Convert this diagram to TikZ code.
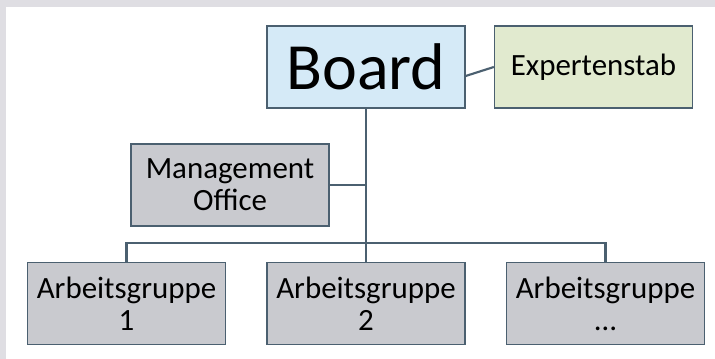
\documentclass[tikz,border=0pt]{standalone}
\usepackage{fontspec}
\setmainfont{Carlito}
\usetikzlibrary{arrows}
\usetikzlibrary{calc}

\definecolor{rahmen}{HTML}{DFDEE3}
\definecolor{linie}{HTML}{4B6070}
\definecolor{boardfill}{HTML}{D5EAF7}
\definecolor{stabfill}{HTML}{E1EACF}
\definecolor{grau}{HTML}{C9CACF}

\tikzset{
box/.style={draw=linie,line width=1pt,minimum width=148.5pt,minimum height=61.5pt,
 inner sep=0pt,align=center,font=\fontsize{23.2pt}{24pt}\selectfont},
verb/.style={draw=linie,line width=1.6pt}
}

\begin{document}
\begin{tikzpicture}[x=0.75pt,y=-0.75pt]

\fill[rahmen] (0,0) rectangle (715,359);
\fill[white] (6,7) rectangle (715,359);
\useasboundingbox (0,0) rectangle (715,359);

\node (board) at (366,67) [box,fill=boardfill,font=\fontsize{49.5pt}{49.5pt}\selectfont] {Board};
\node (stab) at (593.5,67) [box,fill=stabfill] {Expertenstab};

\node (office) at (230,185) [box,fill=grau] {Management\\Office};

\node (ag1) at (126.5,303.5) [box,fill=grau] {Arbeitsgruppe\\1};
\node (ag2) at (366,303.5) [box,fill=grau] {Arbeitsgruppe\\2};
\node (ag3) at (605.5,303.5) [box,fill=grau] {Arbeitsgruppe\\\dots};

\coordinate (bar) at (366,243);

\draw[verb] ([yshift=-6.75pt]board.east) -- (stab.west);
\draw[verb] (board.south) -- (ag2.north);
\draw[verb] (office.east) -- (office.east -| board.south);
\draw[verb] (ag1.north) |- (bar) -| (ag3.north);

\end{tikzpicture}
\end{document}
